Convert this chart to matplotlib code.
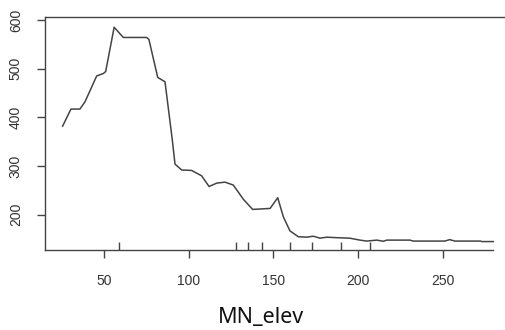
import matplotlib
matplotlib.use("Agg")
import matplotlib.pyplot as plt

# partial dependence values
mn_elev = [25.6, 30.5, 35.8, 38.8, 45.7, 49.6, 51.0, 56.0, 61.4, 75.2, 76.5, 81.7, 86.0,
           90.3, 91.9, 95.8, 101.7, 107.6, 112.0, 116.5, 121.4, 126.3, 132.2, 137.7,
           148.0, 152.5, 155.8, 159.7, 164.6, 169.6, 173.5, 177.4, 181.4, 187.3, 195.0,
           201.0, 205.0, 211.0, 214.8, 216.8, 230.5, 232.5, 251.0, 254.0, 257.0, 272.0,
           273.0, 279.7]
response = [382, 417, 417, 432, 485, 490, 494, 585, 564, 564, 560, 482, 473,
            354, 304, 292, 291, 280, 258, 265, 267, 261, 232, 211,
            213, 235, 196, 167, 155, 154, 156, 152, 154, 153, 152,
            148, 146, 148, 145.6, 148, 148, 146, 146, 149, 146, 146,
            145, 145]
rug = [59, 128, 135, 143, 160, 173, 190, 207]
xticks = [50, 100, 150, 200, 250]
yticks = [200, 300, 400, 500, 600]

W, H = 505, 330
fig = plt.figure(figsize=(W / 100, H / 100), dpi=100)
ax = fig.add_axes([45 / W, 1 - 250 / H, (W - 45) / W, (250 - 17) / H])

ax.plot(mn_elev, response, color="#444444", lw=1.1)
ax.set_xlim(15.2, 286.6)
ax.set_ylim(127.7, 606)

for s in ["left", "bottom", "top"]:
    ax.spines[s].set_color("#444444")
    ax.spines[s].set_linewidth(1.0)
ax.spines["right"].set_visible(False)
ax.spines["bottom"].set_bounds(15.2, 279.5)

ax.set_xticks(xticks)
ax.set_yticks(yticks)
ax.set_xticks(rug, minor=True)
ax.tick_params(axis="x", which="major", direction="out", length=6, width=1,
               color="#444444", labelsize=10, labelcolor="#333333", pad=11)
ax.tick_params(axis="x", which="minor", direction="in", length=6, width=1,
               color="#444444")
ax.tick_params(axis="y", direction="out", length=6, width=1, color="#444444",
               labelsize=10, labelcolor="#333333", pad=10)
for lab in ax.get_xticklabels() + ax.get_yticklabels():
    lab.set_family("Liberation Sans")
for lab in ax.get_yticklabels():
    lab.set_rotation(90)
    lab.set_va("center")

fig.text(261 / W, 1 - 318 / H, "MN_elev", ha="center", va="center",
         fontsize=15.5, family="Noto Sans", color="#111111")

fig.savefig("out.png", dpi=100)
